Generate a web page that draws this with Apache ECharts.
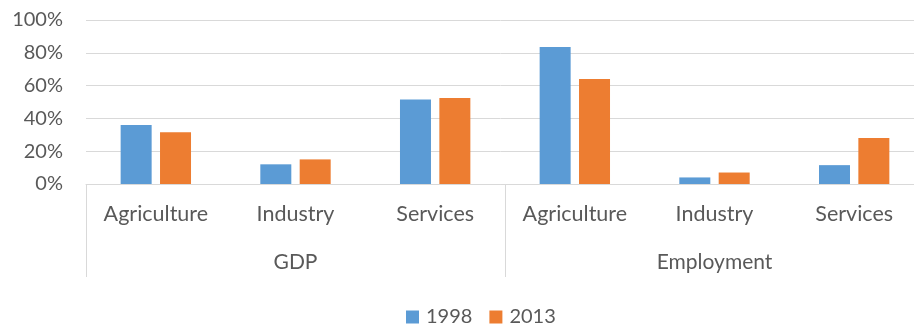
<!DOCTYPE html>
<html>
<head>
<meta charset="utf-8">
<script src="https://cdn.jsdelivr.net/npm/echarts@6/dist/echarts.min.js"></script>
<style>
  html, body { margin: 0; padding: 0; background: #ffffff; }
  #chart { width: 914px; height: 325px; }
</style>
</head>
<body>
<div id="chart"></div>
<script>
// Sector shares of GDP and employment, 1998 vs 2013
const sectors = ['Agriculture', 'Industry', 'Services', 'Agriculture', 'Industry', 'Services'];
const groups = ['GDP', 'Employment'];
const values1998 = [0.36, 0.12, 0.515, 0.835, 0.04, 0.115];
const values2013 = [0.315, 0.15, 0.525, 0.64, 0.07, 0.28];
const yTicks = [0, 0.2, 0.4, 0.6, 0.8, 1];

const FONT = 'Lato';
const TEXT = '#595959';
const LINE = '#d9d9d9';

const chart = echarts.init(document.getElementById('chart'), null, { renderer: 'canvas' });

chart.setOption({
  animation: false,
  textStyle: { fontFamily: FONT, color: TEXT },
  color: ['#5B9BD5', '#ED7D31'],
  // plot area runs a little past the right edge of the canvas
  grid: { left: 86, top: 20, width: 838, height: 164, containLabel: false, outerBoundsMode: 'none' },
  legend: {
    data: ['1998', '2013'],
    left: 401,
    top: 302,
    icon: 'rect',
    itemWidth: 13,
    itemHeight: 13,
    itemGap: 17,
    textStyle: { fontFamily: FONT, fontSize: 20, color: TEXT, padding: [0, 0, 0, 2] }
  },
  xAxis: [
    {
      type: 'category',
      data: sectors,
      position: 'bottom',
      axisLine: { show: true, lineStyle: { color: LINE, width: 1 } },
      axisTick: { show: false },
      axisLabel: { fontFamily: FONT, fontSize: 21.5, color: TEXT, margin: 19, interval: 0 }
    },
    {
      type: 'category',
      data: groups,
      position: 'bottom',
      axisLine: { show: false },
      axisTick: { show: true, length: 93, lineStyle: { color: LINE, width: 1 } },
      axisLabel: { fontFamily: FONT, fontSize: 21, color: TEXT, margin: 68, interval: 0 }
    }
  ],
  yAxis: {
    type: 'value',
    min: yTicks[0],
    max: yTicks[yTicks.length - 1],
    interval: 0.2,
    axisLine: { show: false },
    axisTick: { show: false },
    splitLine: { lineStyle: { color: LINE, width: 1 } },
    axisLabel: {
      fontFamily: FONT, fontSize: 20, color: TEXT, margin: 23,
      formatter: v => Math.round(v * 100) + '%'
    }
  },
  series: [
    {
      name: '1998', type: 'bar', xAxisIndex: 0, data: values1998,
      barWidth: 31, barGap: '27%'
    },
    {
      name: '2013', type: 'bar', xAxisIndex: 0, data: values2013,
      barWidth: 31, barGap: '27%'
    }
  ]
});
</script>
</body>
</html>
